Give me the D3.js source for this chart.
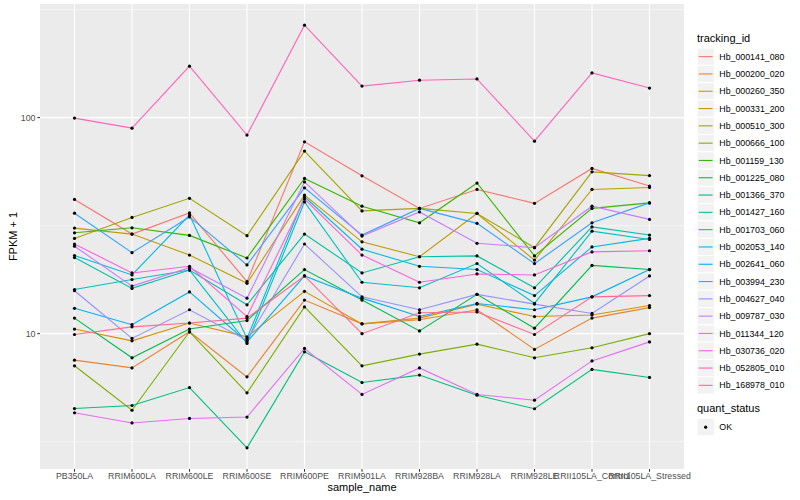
<!DOCTYPE html>
<html>
<head>
<meta charset="utf-8">
<script src="https://cdn.jsdelivr.net/npm/d3@7"></script>
<style>
  body { margin: 0; background: #fff; }
  svg { display: block; font-family: "Liberation Sans", Arial, sans-serif; }
</style>
</head>
<body>
<div id="chart_container"></div>
<script>
// x categories
const samples = [
  "PB350LA", "RRIM600LA", "RRIM600LE", "RRIM600SE", "RRIM600PE", "RRIM901LA",
  "RRIM928BA", "RRIM928LA", "RRIM928LE", "RRII105LA_Control", "RRII105LA_Stressed",
];

// series names (legend order)
const trackingIds = [
  "Hb_000141_080", "Hb_000200_020", "Hb_000260_350", "Hb_000331_200", "Hb_000510_300",
  "Hb_000666_100", "Hb_001159_130", "Hb_001225_080", "Hb_001366_370", "Hb_001427_160",
  "Hb_001703_060", "Hb_002053_140", "Hb_002641_060", "Hb_003994_230", "Hb_004627_040",
  "Hb_009787_030", "Hb_011344_120", "Hb_030736_020", "Hb_052805_010", "Hb_168978_010",
];

// FPKM + 1 per sample
const hb_000141_080 = [41.8, 28.9, 36.2, 17.4, 77.3, 53.8, 38.0, 46.5, 40.1, 58.2, 48.2];
const hb_000200_020 = [7.54, 6.94, 10.2, 6.31, 14.3, 11.1, 11.6, 12.9, 8.45, 11.8, 13.2];
const hb_000260_350 = [10.5, 9.26, 11.2, 9.66, 15.7, 11.1, 11.8, 13.7, 12.0, 12.2, 13.5];
const hb_000331_200 = [30.8, 28.9, 23.1, 17.1, 43.8, 26.6, 22.7, 36.0, 21.9, 46.5, 47.5];
const hb_000510_300 = [27.6, 34.5, 42.3, 28.4, 70.0, 37.0, 38.0, 36.0, 25.0, 56.1, 53.9];
const hb_000666_100 = [7.10, 4.42, 10.2, 5.32, 13.3, 7.10, 8.04, 8.94, 7.73, 8.60, 10.0];
const hb_001159_130 = [29.3, 30.9, 28.5, 22.4, 52.3, 38.9, 32.6, 49.8, 22.9, 38.0, 40.3];
const hb_001225_080 = [11.8, 7.73, 10.5, 11.5, 19.8, 14.3, 10.3, 15.2, 10.6, 20.7, 19.8];
const hb_001366_370 = [4.50, 4.65, 5.63, 2.96, 8.24, 5.94, 6.43, 5.19, 4.49, 6.83, 6.27];
const hb_001427_160 = [22.5, 16.2, 19.7, 13.6, 28.9, 19.1, 22.7, 22.9, 16.3, 31.2, 28.6];
const hb_001703_060 = [16.0, 17.8, 19.7, 9.01, 40.7, 17.3, 16.3, 21.1, 13.8, 29.8, 27.3];
const hb_002053_140 = [23.0, 18.7, 35.4, 9.50, 43.0, 24.6, 20.5, 19.8, 15.0, 25.2, 27.6];
const hb_002641_060 = [13.1, 11.0, 15.6, 9.16, 18.5, 14.6, 12.0, 13.8, 12.9, 14.8, 19.8];
const hb_003994_230 = [36.1, 23.7, 34.7, 20.8, 47.3, 28.6, 38.0, 32.4, 21.1, 32.6, 40.3];
const hb_004627_040 = [15.8, 9.50, 12.9, 9.33, 26.0, 14.8, 12.9, 15.2, 13.7, 12.4, 18.5];
const hb_009787_030 = [25.4, 16.6, 20.2, 14.6, 50.4, 28.3, 36.6, 26.2, 25.0, 38.9, 33.8];
const hb_011344_120 = [4.30, 3.86, 4.05, 4.11, 8.54, 5.23, 6.94, 5.23, 4.92, 7.48, 9.16];
const hb_030736_020 = [26.0, 19.1, 20.5, 12.0, 42.0, 23.1, 17.3, 18.9, 18.7, 23.9, 24.2];
const hb_052805_010 = [99.5, 89.4, 173, 83.0, 268, 140, 149, 151, 77.8, 161, 137];
const hb_168978_010 = [9.91, 10.75, 11.2, 11.8, 18.5, 10.0, 12.5, 12.6, 9.91, 14.8, 15.0];

const seriesValues = [
  hb_000141_080, hb_000200_020, hb_000260_350, hb_000331_200, hb_000510_300,
  hb_000666_100, hb_001159_130, hb_001225_080, hb_001366_370, hb_001427_160,
  hb_001703_060, hb_002053_140, hb_002641_060, hb_003994_230, hb_004627_040,
  hb_009787_030, hb_011344_120, hb_030736_020, hb_052805_010, hb_168978_010,
];

const yMajorTicks = [10, 100];
const statusLevels = ["OK"];

// chart dimensions
const W = 800;
const H = 500;
const PANEL = Object.freeze({ left: 40, right: 684, top: 4, bottom: 469 });

// ggplot hue palette for 20 levels
const palette = [
  "#F8766D", "#EA8331", "#D89000", "#C09B00", "#A3A500", "#7CAE00", "#39B600",
  "#00BB4E", "#00BF7D", "#00C1A3", "#00BFC4", "#00BAE0", "#00B0F6", "#35A2FF",
  "#9590FF", "#C77CFF", "#E76BF3", "#FA62DB", "#FF62BC", "#FF6C91",
];

const series = trackingIds.map((id, i) => ({
  id,
  values: samples.map((s, j) => ({ sample: s, value: seriesValues[i][j] })),
}));

const svg = d3
  .select("#chart_container")
  .append("svg")
  .attr("width", W)
  .attr("height", H);

// scales
const x = d3.scalePoint().domain(samples).range([PANEL.left, PANEL.right]).padding(0.6);

const allVals = seriesValues.flat();
const lo = Math.log10(d3.min(allVals));
const hi = Math.log10(d3.max(allVals));
const pad = (hi - lo) * 0.05;
const y = d3
  .scaleLog()
  .domain([Math.pow(10, lo - pad), Math.pow(10, hi + pad)])
  .range([PANEL.bottom, PANEL.top]);

const color = d3.scaleOrdinal().domain(trackingIds).range(palette);

// panel background
svg
  .append("rect")
  .attr("x", PANEL.left)
  .attr("y", PANEL.top)
  .attr("width", PANEL.right - PANEL.left)
  .attr("height", PANEL.bottom - PANEL.top)
  .attr("fill", "#EBEBEB");

// minor grid (half decades)
const yMinor = [0.5, 1.5, 2.5]
  .map((e) => Math.pow(10, e))
  .filter((v) => v > y.domain()[0] && v < y.domain()[1]);

const grid = svg.append("g");
grid
  .selectAll(".minor")
  .data(yMinor)
  .enter()
  .append("line")
  .attr("x1", PANEL.left)
  .attr("x2", PANEL.right)
  .attr("y1", (d) => y(d))
  .attr("y2", (d) => y(d))
  .attr("stroke", "#fff")
  .attr("stroke-width", 0.55);

grid
  .selectAll(".major")
  .data(yMajorTicks)
  .enter()
  .append("line")
  .attr("x1", PANEL.left)
  .attr("x2", PANEL.right)
  .attr("y1", (d) => y(d))
  .attr("y2", (d) => y(d))
  .attr("stroke", "#fff")
  .attr("stroke-width", 1.1);

grid
  .selectAll(".vmajor")
  .data(samples)
  .enter()
  .append("line")
  .attr("x1", (d) => x(d))
  .attr("x2", (d) => x(d))
  .attr("y1", PANEL.top)
  .attr("y2", PANEL.bottom)
  .attr("stroke", "#fff")
  .attr("stroke-width", 1.1);

// lines
const line = d3
  .line()
  .x((d) => x(d.sample))
  .y((d) => y(d.value));

svg
  .append("g")
  .selectAll("path")
  .data(series)
  .enter()
  .append("path")
  .attr("d", (d) => line(d.values))
  .attr("fill", "none")
  .attr("stroke", (d) => color(d.id))
  .attr("stroke-width", 1.1);

// points
svg
  .append("g")
  .selectAll("circle")
  .data(series.flatMap((s) => s.values))
  .enter()
  .append("circle")
  .attr("cx", (d) => x(d.sample))
  .attr("cy", (d) => y(d.value))
  .attr("r", 1.6)
  .attr("fill", "#000");

// y axis
const yAxis = svg.append("g");
yAxis
  .selectAll("line")
  .data(yMajorTicks)
  .enter()
  .append("line")
  .attr("x1", PANEL.left - 2.75)
  .attr("x2", PANEL.left)
  .attr("y1", (d) => y(d))
  .attr("y2", (d) => y(d))
  .attr("stroke", "#333")
  .attr("stroke-width", 1);
yAxis
  .selectAll("text")
  .data(yMajorTicks)
  .enter()
  .append("text")
  .attr("x", PANEL.left - 4.5)
  .attr("y", (d) => y(d) + 3.1)
  .attr("text-anchor", "end")
  .attr("fill", "#4D4D4D")
  .style("font-size", "8.8px")
  .text((d) => d);

// x axis
const xAxis = svg.append("g");
xAxis
  .selectAll("line")
  .data(samples)
  .enter()
  .append("line")
  .attr("x1", (d) => x(d))
  .attr("x2", (d) => x(d))
  .attr("y1", PANEL.bottom)
  .attr("y2", PANEL.bottom + 2.75)
  .attr("stroke", "#333")
  .attr("stroke-width", 1);
xAxis
  .selectAll("text")
  .data(samples)
  .enter()
  .append("text")
  .attr("x", (d) => x(d))
  .attr("y", PANEL.bottom + 9.5)
  .attr("text-anchor", "middle")
  .attr("fill", "#4D4D4D")
  .style("font-size", "8.8px")
  .text((d) => d);

// axis titles
svg
  .append("text")
  .attr("x", (PANEL.left + PANEL.right) / 2)
  .attr("y", 491)
  .attr("text-anchor", "middle")
  .style("font-size", "11px")
  .text("sample_name");

svg
  .append("text")
  .attr("transform", `translate(16.5, ${(PANEL.top + PANEL.bottom) / 2}) rotate(-90)`)
  .attr("text-anchor", "middle")
  .style("font-size", "11px")
  .text("FPKM + 1");

// legend: tracking_id
const KEY = 17.3;
const LEG_X = 697;
const legend = svg.append("g");
legend
  .append("text")
  .attr("x", LEG_X)
  .attr("y", 42)
  .style("font-size", "11px")
  .text("tracking_id");

const items = legend
  .selectAll(".item")
  .data(trackingIds)
  .enter()
  .append("g")
  .attr("transform", (d, i) => `translate(${LEG_X}, ${48 + i * KEY})`);

items
  .append("rect")
  .attr("width", KEY)
  .attr("height", KEY)
  .attr("fill", "#F2F2F2")
  .attr("stroke", "#fff")
  .attr("stroke-width", 1);
items
  .append("line")
  .attr("x1", 1.7)
  .attr("x2", KEY - 1.7)
  .attr("y1", KEY / 2)
  .attr("y2", KEY / 2)
  .attr("stroke", (d) => color(d))
  .attr("stroke-width", 1.1);
items
  .append("text")
  .attr("x", KEY + 5)
  .attr("y", KEY / 2 + 3.1)
  .style("font-size", "8.8px")
  .text((d) => d);

// legend: quant_status
legend
  .append("text")
  .attr("x", LEG_X)
  .attr("y", 412)
  .style("font-size", "11px")
  .text("quant_status");

const status = legend
  .selectAll(".status")
  .data(statusLevels)
  .enter()
  .append("g")
  .attr("transform", (d, i) => `translate(${LEG_X}, ${418.5 + i * KEY})`);
status
  .append("rect")
  .attr("width", KEY)
  .attr("height", KEY)
  .attr("fill", "#F2F2F2")
  .attr("stroke", "#fff");
status
  .append("circle")
  .attr("cx", KEY / 2)
  .attr("cy", KEY / 2)
  .attr("r", 1.6)
  .attr("fill", "#000");
status
  .append("text")
  .attr("x", KEY + 5)
  .attr("y", KEY / 2 + 3.1)
  .style("font-size", "8.8px")
  .text((d) => d);
</script>
</body>
</html>
